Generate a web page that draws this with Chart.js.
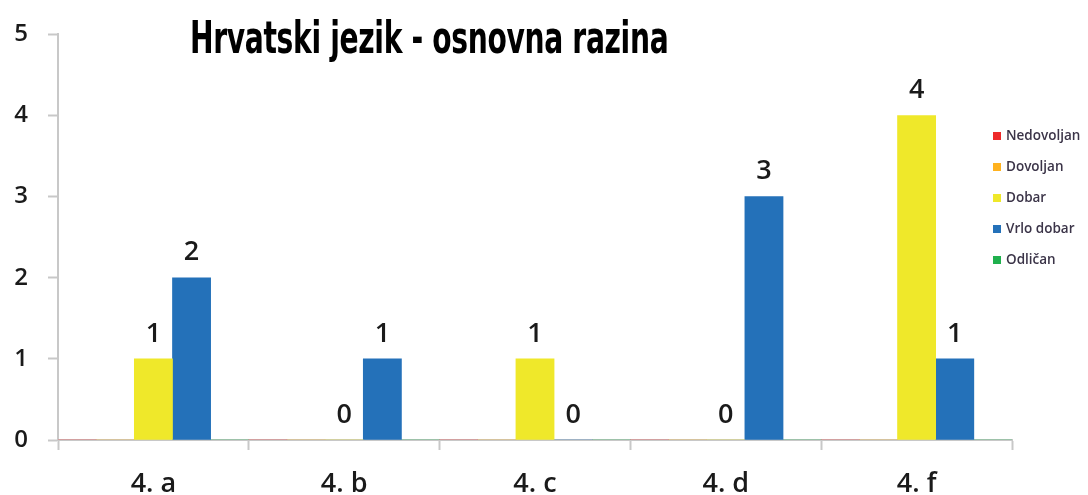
<!DOCTYPE html>
<html>
<head>
<meta charset="utf-8">
<script src="https://cdn.jsdelivr.net/npm/chart.js@4.4.0/dist/chart.umd.min.js"></script>
<style>
    html, body { margin: 0; padding: 0; background: #fff; }
    #wrap { position: relative; width: 1088px; height: 495px; overflow: hidden; }
    #naslov {
        position: absolute; left: 190px; top: 12px;
        font-family: 'Liberation Sans Narrow', 'DejaVu Sans Condensed', sans-serif;
        font-weight: bold; font-size: 44px; color: #000;
        white-space: nowrap; transform-origin: 0 0; letter-spacing: -0.5px;
    }
    #legenda { position: absolute; left: 993px; top: 125px; }
    #legenda div {
        height: 31px; line-height: 20px; white-space: nowrap;
        font-family: 'Open Sans', sans-serif; font-weight: 600; font-size: 13.5px; color: #3b3448;
    }
    #legenda span { display: inline-block; width: 8px; height: 8px; margin-right: 5px; vertical-align: 0px; }
</style>
</head>
<body>
<div id="wrap">
    <canvas id="ocjeneChart" width="1088" height="495"></canvas>
    <div id="naslov">Hrvatski jezik - osnovna razina</div>
    <div id="legenda"></div>
</div>
<script>
// Podaci
const razredi = ['4. a', '4. b', '4. c', '4. d', '4. f'];
const ocjene = ['Nedovoljan', 'Dovoljan', 'Dobar', 'Vrlo dobar', 'Odličan'];
const boje = ['#ee2a2a', '#ffb21f', '#efe82a', '#2471b9', '#1fb04d'];
const nedovoljan = [0, 0, 0, 0, 0];
const dovoljan = [0, 0, 0, 0, 0];
const dobar = [1, 0, 1, 0, 4];
const vrloDobar = [2, 1, 0, 3, 1];
const odlican = [0, 0, 0, 0, 0];
const oznaceno = [false, false, true, true, false];
const yTicks = [0, 1, 2, 3, 4, 5];

const serije = [nedovoljan, dovoljan, dobar, vrloDobar, odlican];

// Naslov - sazmi na sirinu iz slike
const naslov = document.getElementById('naslov');
const sirina = naslov.offsetWidth;
naslov.style.transform = 'scaleX(' + (478 / sirina) + ')';

// Legenda
const legenda = document.getElementById('legenda');
ocjene.forEach(function(o, i) {
    const red = document.createElement('div');
    const kvadrat = document.createElement('span');
    kvadrat.style.background = boje[i];
    red.appendChild(kvadrat);
    red.appendChild(document.createTextNode(o));
    legenda.appendChild(red);
});

// Vrijednosti iznad stupaca
const vrijednostiPlugin = {
    id: 'vrijednosti',
    afterDatasetsDraw: function(chart) {
        const ctx = chart.ctx;
        ctx.save();
        ctx.font = '600 27px "Open Sans", sans-serif';
        ctx.fillStyle = '#1a1a1a';
        ctx.textAlign = 'center';
        ctx.textBaseline = 'middle';
        chart.data.datasets.forEach(function(ds, i) {
            if (!oznaceno[i]) return;
            chart.getDatasetMeta(i).data.forEach(function(el, j) {
                ctx.fillText(ds.data[j], el.x, el.y - 25);
            });
        });
        ctx.restore();
    }
};

new Chart(document.getElementById('ocjeneChart'), {
    type: 'bar',
    data: {
        labels: razredi,
        datasets: serije.map(function(s, i) {
            return {
                label: ocjene[i],
                data: s,
                backgroundColor: boje[i],
                borderWidth: 0,
                categoryPercentage: 1,
                barPercentage: 1
            };
        })
    },
    options: {
        responsive: false,
        animation: false,
        layout: { padding: { top: 33, right: 76, left: 0, bottom: 0 } },
        plugins: {
            legend: { display: false },
            tooltip: { enabled: false }
        },
        scales: {
            y: {
                min: 0,
                max: 5,
                afterBuildTicks: function(scale) {
                    scale.ticks = yTicks.map(function(v) { return { value: v }; });
                },
                afterFit: function(scale) { scale.width = 58; },
                border: { color: '#c8c8c8', width: 2 },
                grid: {
                    drawOnChartArea: false,
                    drawTicks: true,
                    tickLength: 10,
                    tickColor: '#c8c8c8',
                    tickWidth: 2
                },
                ticks: {
                    color: '#1a1a1a',
                    font: { family: "'Open Sans', sans-serif", size: 24, weight: '600' },
                    padding: 20
                }
            },
            x: {
                afterFit: function(scale) { scale.height = 55; },
                border: { color: '#c8c8c8', width: 2 },
                grid: {
                    drawOnChartArea: false,
                    drawTicks: true,
                    tickLength: 10,
                    tickColor: '#c8c8c8',
                    tickWidth: 2
                },
                ticks: {
                    color: '#1a1a1a',
                    font: { family: "'Open Sans', sans-serif", size: 27, weight: '600' },
                    padding: 18
                }
            }
        }
    },
    plugins: [vrijednostiPlugin]
});
</script>
</body>
</html>
